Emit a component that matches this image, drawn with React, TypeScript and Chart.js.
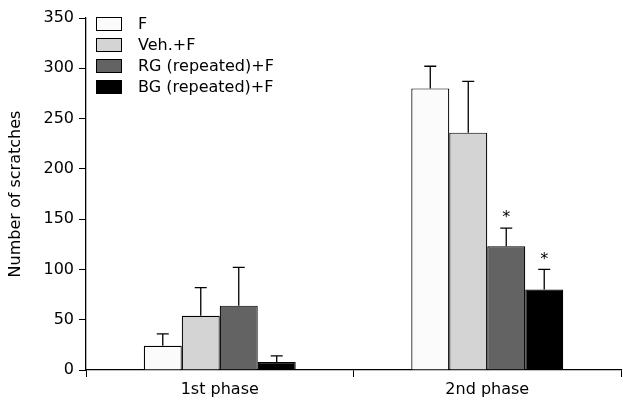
import React, { useEffect, useRef } from "react";
import { Chart, registerables } from "chart.js";

Chart.register(...registerables);

// ---- Data ----
const categories = ["1st phase", "2nd phase"];
const seriesNames = ["F", "Veh.+F", "RG (repeated)+F", "BG (repeated)+F"];
const seriesColors = ["#fbfbfb", "#d4d4d4", "#636363", "#000000"];

const fValues = [24, 280];
const vehValues = [54, 236];
const rgValues = [64, 123];
const bgValues = [8, 80];

const fErrors = [12, 22];
const vehErrors = [28, 51];
const rgErrors = [38, 18];
const bgErrors = [6, 20];

const fSig = [false, false];
const vehSig = [false, false];
const rgSig = [false, true];
const bgSig = [false, true];

const yTicks = [0, 50, 100, 150, 200, 250, 300, 350];
const yTitle = "Number of scratches";

const allValues = [fValues, vehValues, rgValues, bgValues];
const allErrors = [fErrors, vehErrors, rgErrors, bgErrors];
const allSig = [fSig, vehSig, rgSig, bgSig];

const FONT = "'DejaVu Sans', 'Liberation Sans', Arial, sans-serif";

const errorBarPlugin = {
  id: "errorBars",
  afterDatasetsDraw(chart: any) {
    const ctx = chart.ctx;
    const yScale = chart.scales.y;
    ctx.save();
    ctx.strokeStyle = "#000";
    ctx.lineWidth = 1.3;
    chart.data.datasets.forEach((ds: any, di: number) => {
      const meta = chart.getDatasetMeta(di);
      meta.data.forEach((bar: any, i: number) => {
        const v = allValues[di][i];
        const e = allErrors[di][i];
        const x = bar.x;
        const y0 = yScale.getPixelForValue(v);
        const y1 = yScale.getPixelForValue(v + e);
        ctx.beginPath();
        ctx.moveTo(x, y0);
        ctx.lineTo(x, y1);
        ctx.moveTo(x - 6, y1);
        ctx.lineTo(x + 6, y1);
        ctx.stroke();
        if (allSig[di][i]) {
          ctx.fillStyle = "#000";
          ctx.font = `16px ${FONT}`;
          ctx.textAlign = "center";
          ctx.textBaseline = "middle";
          ctx.fillText("*", x, y1 - 10);
        }
      });
    });
    ctx.restore();
  },
};

const legendPlugin = {
  id: "customLegend",
  afterDraw(chart: any) {
    const ctx = chart.ctx;
    const left = chart.chartArea.left + 10;
    const top = chart.chartArea.top - 1;
    ctx.save();
    chart.data.datasets.forEach((ds: any, i: number) => {
      const y = top + i * 21;
      ctx.fillStyle = ds.backgroundColor;
      ctx.fillRect(left, y, 26, 14);
      ctx.strokeStyle = "#000";
      ctx.lineWidth = 1;
      ctx.strokeRect(left + 0.5, y + 0.5, 25, 13);
      ctx.fillStyle = "#000";
      ctx.font = `16px ${FONT}`;
      ctx.textAlign = "left";
      ctx.textBaseline = "middle";
      ctx.fillText(ds.label, left + 42, y + 7.5);
    });
    ctx.restore();
  },
};

export default function App() {
  const canvasRef = useRef<HTMLCanvasElement | null>(null);

  useEffect(() => {
    if (!canvasRef.current) return;
    Chart.defaults.font.family = FONT;
    Chart.defaults.color = "#000";
    const chart = new Chart(canvasRef.current, {
      type: "bar",
      data: {
        labels: categories,
        datasets: seriesNames.map((name, i) => ({
          label: name,
          data: allValues[i],
          backgroundColor: seriesColors[i],
          borderColor: "#000",
          borderWidth: 1.2,
          categoryPercentage: 0.568,
          barPercentage: 1.0,
        })),
      },
      options: {
        responsive: false,
        animation: false,
        layout: { padding: { top: 18, right: 2, left: 0, bottom: 0 } },
        plugins: {
          legend: { display: false },
          tooltip: { enabled: false },
        },
        scales: {
          x: {
            grid: {
              display: true,
              drawOnChartArea: false,
              drawTicks: true,
              tickLength: 7,
              color: "#000",
              offset: true,
            },
            border: { display: true, color: "#000", width: 1.3 },
            ticks: { font: { size: 16 }, color: "#000", padding: 3 },
            afterFit: (scale: any) => {
              scale.height = 31;
            },
          },
          y: {
            min: 0,
            max: 350,
            afterBuildTicks: (scale: any) => {
              scale.ticks = yTicks.map((v) => ({ value: v }));
            },
            grid: {
              display: true,
              drawOnChartArea: false,
              drawTicks: true,
              tickLength: 7,
              color: "#000",
            },
            border: { display: true, color: "#000", width: 1.3 },
            ticks: { font: { size: 16 }, color: "#000", padding: 5 },
            title: {
              display: true,
              text: yTitle,
              font: { size: 16 },
              color: "#000",
              padding: { top: 6, bottom: 0 },
            },
            afterFit: (scale: any) => {
              scale.width = 86;
            },
          },
        },
      },
      plugins: [errorBarPlugin, legendPlugin],
    });
    return () => chart.destroy();
  }, []);

  return (
    <div style={{ position: "fixed", left: 0, top: 0, width: 623, height: 401, background: "#fff" }}>
      <canvas ref={canvasRef} width={623} height={401} style={{ width: 623, height: 401 }} />
    </div>
  );
}
